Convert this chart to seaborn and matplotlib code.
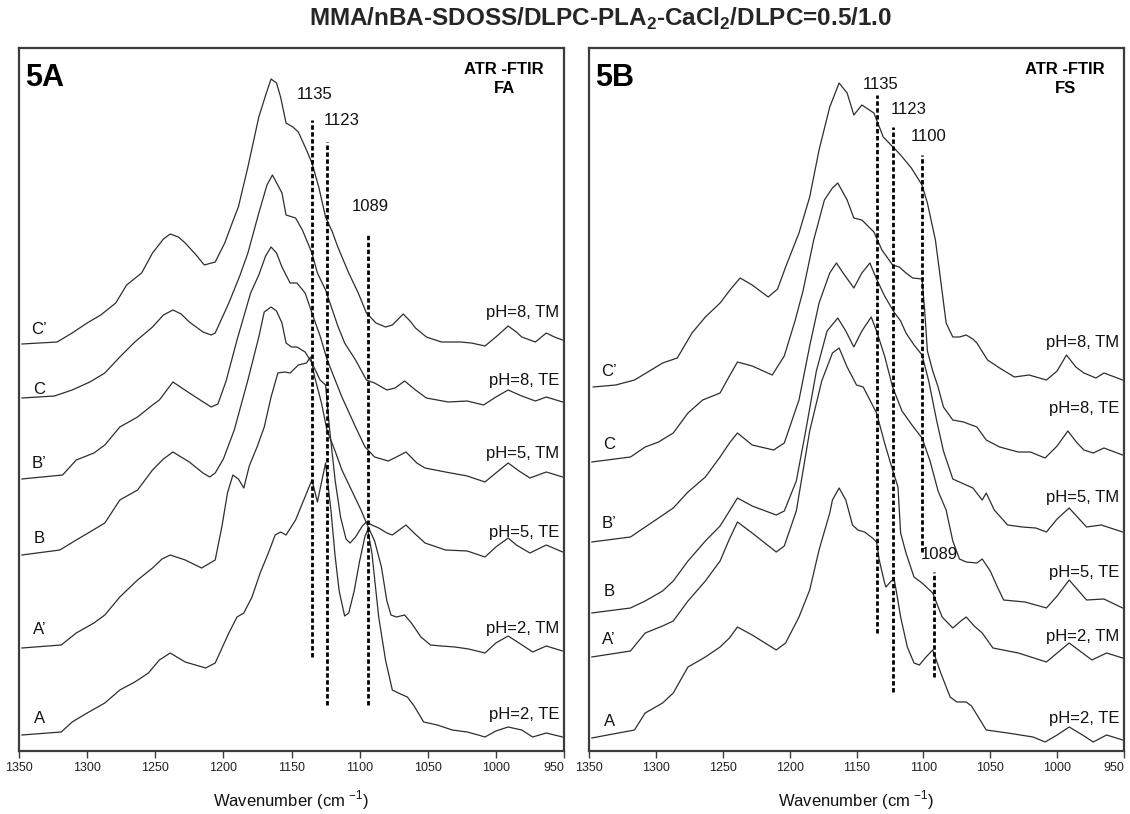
import numpy as np
import pandas as pd
import matplotlib
matplotlib.use("Agg")
import matplotlib.pyplot as plt
import seaborn as sns

# ---------------- data (wavenumber, absorbance in arbitrary offset units) ----------------
TITLE = r"MMA/nBA-SDOSS/DLPC-PLA$_\mathbf{2}$-CaCl$_\mathbf{2}$/DLPC=0.5/1.0"
X_TICKS = [1350, 1300, 1250, 1200, 1150, 1100, 1050, 1000, 950]

# ---- Panel 5A (FA) ----
FA_C_PRIME = [(1348,407),(1322,409),(1311,418),(1300,428),(1290,436),(1279,448),(1271,466),(1260,478),(1252,498),
              (1244,512),(1239,517),(1233,514),(1228,508),(1220,496),(1214,486),(1206,489),(1199,508),(1193,530),
              (1189,544),(1182,584),(1174,634),(1168,660),(1165,672),(1161,668),(1158,654),(1154,628),(1149,624),
              (1145,619),(1139,601),(1135,588),(1130,564),(1125,534),(1120,519),(1116,504),(1108,478),(1101,458),
              (1095,438),(1088,428),(1081,424),(1076,426),(1068,437),(1063,430),(1059,423),(1051,414),(1040,409),
              (1026,409),(1018,408),(1008,405),(1000,414),(991,425),(985,419),(981,414),(971,409),(963,418),
              (957,414),(951,411)]
FA_C = [(1348,353),(1324,355),(1311,361),(1298,369),(1287,378),(1276,394),(1265,409),(1252,424),(1244,436),
        (1237,441),(1231,437),(1225,429),(1215,419),(1209,416),(1206,418),(1196,448),(1188,475),(1182,498),
        (1174,538),(1168,566),(1164,576),(1157,558),(1154,536),(1147,533),(1142,521),(1135,498),(1131,478),
        (1125,461),(1116,425),(1111,408),(1103,391),(1095,371),(1089,368),(1080,361),(1074,363),(1067,370),
        (1059,361),(1051,353),(1035,349),(1021,350),(1009,346),(1000,354),(991,361),(981,355),(971,350),
        (963,354),(951,349)]
FA_B_PRIME = [(1348,272),(1318,276),(1308,291),(1295,298),(1287,306),(1276,324),(1263,334),(1252,346),(1247,351),
              (1237,369),(1225,358),(1209,344),(1204,347),(1198,370),(1190,411),(1180,458),(1174,476),(1169,495),
              (1165,504),(1161,498),(1157,484),(1151,468),(1146,468),(1140,458),(1135,438),(1129,415),(1124,392),
              (1120,378),(1113,354),(1103,324),(1096,304),(1089,294),(1079,290),(1073,294),(1066,299),(1058,288),
              (1052,283),(1037,279),(1021,275),(1008,269),(1000,278),(991,288),(983,280),(975,273),(963,279),
              (951,274)]
FA_B = [(1348,196),(1320,201),(1308,211),(1298,219),(1287,228),(1276,251),(1263,261),(1252,281),(1244,292),
        (1237,299),(1225,289),(1215,278),(1210,274),(1206,278),(1200,292),(1192,321),(1182,371),(1174,414),
        (1170,439),(1165,444),(1161,440),(1157,428),(1154,408),(1150,404),(1146,404),(1140,399),(1135,388),
        (1129,371),(1125,366),(1122,321),(1118,271),(1114,234),(1110,212),(1107,208),(1103,214),(1098,225),
        (1095,229),(1091,226),(1086,223),(1080,218),(1076,216),(1070,222),(1066,226),(1060,218),(1052,208),
        (1037,201),(1021,200),(1008,194),(1000,204),(991,213),(985,206),(975,198),(963,206),(951,199)]
FA_A_PRIME = [(1348,103),(1319,106),(1308,118),(1295,128),(1287,136),(1276,154),(1263,171),(1252,183),(1245,192),
              (1239,196),(1228,191),(1216,183),(1206,191),(1201,225),(1197,258),(1193,276),(1189,272),(1185,263),
              (1181,285),(1175,305),(1170,324),(1165,354),(1160,378),(1155,379),(1151,378),(1145,386),(1139,388),
              (1136,394),(1133,374),(1128,348),(1124,321),(1118,300),(1113,281),(1106,261),(1099,241),(1095,228),
              (1089,210),(1084,184),(1080,150),(1077,136),(1073,134),(1067,136),(1062,128),(1055,114),(1048,106),
              (1040,105),(1030,104),(1020,102),(1008,98),(1000,108),(991,115),(983,108),(973,99),(963,105),(951,100)]
FA_A = [(1348,16),(1319,19),(1311,29),(1300,38),(1287,48),(1276,61),(1265,69),(1255,78),(1247,91),(1239,98),
        (1228,89),(1213,83),(1206,88),(1196,118),(1190,134),(1185,138),(1179,154),(1173,178),(1167,198),(1162,216),
        (1158,219),(1154,216),(1147,231),(1141,251),(1135,271),(1131,249),(1125,288),(1121,240),(1118,195),
        (1115,160),(1111,135),(1108,138),(1104,160),(1100,190),(1096,215),(1094,221),(1091,198),(1086,134),
        (1081,91),(1076,61),(1070,57),(1065,54),(1060,45),(1053,29),(1043,26),(1032,21),(1021,19),(1013,16),
        (1008,14),(1000,20),(991,24),(981,21),(973,14),(963,18),(951,14)]

# ---- Panel 5B (FS) ----
FS_C_PRIME = [(1347,364),(1330,366),(1316,371),(1306,379),(1295,388),(1284,393),(1273,418),(1263,434),(1252,448),
              (1244,462),(1237,473),(1228,466),(1216,454),(1209,462),(1203,484),(1193,518),(1185,554),(1178,601),
              (1170,644),(1163,668),(1157,658),(1152,636),(1146,646),(1137,638),(1130,614),(1122,603),(1117,596),
              (1109,583),(1101,566),(1097,548),(1091,511),(1087,470),(1083,428),(1078,414),(1073,414),(1068,416),
              (1063,412),(1060,408),(1052,391),(1043,383),(1032,374),(1021,376),(1008,371),(1000,380),(993,396),
              (986,384),(980,378),(971,373),(965,378),(951,371)]
FS_C = [(1348,289),(1319,294),(1308,304),(1298,309),(1287,318),(1276,338),(1265,351),(1252,358),(1245,375),
        (1239,389),(1228,385),(1213,376),(1204,395),(1196,430),(1190,460),(1182,511),(1174,551),(1168,563),
        (1164,568),(1157,551),(1152,533),(1146,531),(1137,519),(1131,501),(1123,486),(1118,484),(1113,478),
        (1108,473),(1101,472),(1099,440),(1097,400),(1093,380),(1089,364),(1085,344),(1078,331),(1070,329),
        (1060,324),(1053,311),(1043,304),(1029,299),(1020,299),(1009,293),(1000,305),(992,320),(985,308),
        (980,301),(973,298),(965,303),(951,296)]
FS_B_PRIME = [(1348,209),(1319,214),(1308,224),(1298,233),(1287,243),(1276,259),(1263,274),(1252,294),(1245,308),
              (1239,318),(1228,306),(1212,301),(1204,308),(1193,351),(1185,405),(1178,448),(1170,478),(1165,488),
              (1160,478),(1152,463),(1146,478),(1140,488),(1135,472),(1129,455),(1122,439),(1117,430),(1113,418),
              (1107,406),(1101,396),(1096,370),(1090,330),(1085,300),(1078,272),(1068,266),(1063,263),(1056,251),
              (1053,258),(1047,241),(1037,226),(1026,224),(1016,223),(1008,219),(1000,232),(991,243),(978,224),
              (967,226),(951,219)]
FS_B = [(1348,138),(1319,143),(1308,150),(1295,160),(1287,170),(1276,190),(1263,210),(1252,225),(1245,240),
        (1239,253),(1228,245),(1210,236),(1204,240),(1195,270),(1188,320),(1180,380),(1172,420),(1164,433),
        (1158,420),(1152,404),(1146,420),(1139,434),(1135,420),(1129,395),(1123,364),(1116,340),(1108,325),
        (1101,313),(1095,290),(1089,260),(1083,241),(1078,210),(1073,192),(1068,189),(1060,188),(1056,192),
        (1050,180),(1045,165),(1040,151),(1024,149),(1008,143),(1000,155),(991,171),(978,151),(965,152),(951,143)]
FS_A_PRIME = [(1348,94),(1319,100),(1308,118),(1295,125),(1287,130),(1276,150),(1263,170),(1252,190),(1245,212),
              (1239,229),(1228,218),(1210,199),(1204,205),(1195,240),(1185,320),(1176,370),(1168,398),(1163,403),
              (1157,384),(1150,366),(1145,364),(1135,338),(1129,308),(1123,281),(1119,264),(1117,218),(1113,198),
              (1107,174),(1101,168),(1093,158),(1086,134),(1078,123),(1072,130),(1068,134),(1062,125),(1056,118),
              (1048,103),(1029,98),(1008,89),(1000,98),(991,108),(974,91),(963,98),(951,93)]
FS_A = [(1348,13),(1316,21),(1308,38),(1295,48),(1287,58),(1276,84),(1263,94),(1252,104),(1245,113),(1239,124),
        (1228,116),(1210,101),(1203,108),(1193,134),(1185,161),(1178,201),(1170,238),(1168,251),(1163,263),
        (1158,251),(1153,226),(1149,221),(1144,219),(1138,213),(1135,209),(1133,191),(1129,168),(1128,164),
        (1122,173),(1120,158),(1117,134),(1112,104),(1107,88),(1103,86),(1098,94),(1093,101),(1087,78),
        (1080,54),(1075,49),(1068,49),(1064,45),(1053,21),(1037,18),(1018,14),(1009,9),(1000,16),(991,24),
        (981,16),(973,9),(963,16),(951,11)]

# curve labels (letter, right-side condition)
SAMPLES = ["C\u2019", "C", "B\u2019", "B", "A\u2019", "A"]
CONDITIONS = ["pH=8, TM", "pH=8, TE", "pH=5, TM", "pH=5, TE", "pH=2, TM", "pH=2, TE"]

FA_CURVES = [FA_C_PRIME, FA_C, FA_B_PRIME, FA_B, FA_A_PRIME, FA_A]
FS_CURVES = [FS_C_PRIME, FS_C, FS_B_PRIME, FS_B, FS_A_PRIME, FS_A]

# marker lines: (position, label text, top, bottom, label x, label y)
FA_MARKS = [(1135, "1135", 631, 94, 1133, 649), (1124, "1123", 609, 46, 1113, 623),
            (1094, "1089", 518, 46, 1092, 537)]
FS_MARKS = [(1135, "1135", 656, 118, 1132, 659), (1122.5, "1123", 624, 59, 1111, 634),
            (1101, "1100", 596, 199, 1096, 607), (1092, "1089", 179, 74, 1088, 189)]

# label positions (y, data units)
FA_LETTER_Y = [413, 353, 279, 204, 113, 24]
FA_COND_Y = [439, 371, 298, 219, 123, 36]
FS_LETTER_Y = [371, 298, 219, 151, 103, 21]
FS_COND_Y = [409, 343, 254, 178, 114, 33]

# ---------------- style ----------------
sns.set_theme(style="white")
plt.rcParams["font.family"] = ["Liberation Sans", "DejaVu Sans"]
plt.rcParams["mathtext.fontset"] = "custom"
plt.rcParams["mathtext.rm"] = "Liberation Sans"
plt.rcParams["mathtext.bf"] = "Liberation Sans:bold"

W, H = 1130, 814
fig = plt.figure(figsize=(W / 100, H / 100), dpi=100)
fig.patch.set_facecolor("white")

LINE_COLOR = "#2e2e2e"
FRAME_COLOR = "#3c3c3c"


def to_frame(curves):
    rows = []
    for name, pts in zip(SAMPLES, curves):
        for wn, a in pts:
            rows.append({"wavenumber": wn, "absorbance": a, "sample": name})
    return pd.DataFrame(rows)


def draw_panel(rect, curves, marks, letter_y, cond_y, tag, tech):
    ax = fig.add_axes(rect)
    df = to_frame(curves)
    sns.lineplot(data=df, x="wavenumber", y="absorbance", units="sample", estimator=None,
                 color=LINE_COLOR, linewidth=0.9, ax=ax, legend=False)
    ax.set_xlim(1350, 950)
    ax.set_ylim(0, 703)
    ax.set_yticks([])
    ax.set_xticks(X_TICKS)
    labels = ax.set_xticklabels([str(t) for t in X_TICKS], fontsize=9, color="#222222")
    labels[-1].set_horizontalalignment("right")
    ax.tick_params(axis="x", direction="out", length=5, width=1, color=FRAME_COLOR, pad=3,
                   bottom=True)
    for s in ax.spines.values():
        s.set_color(FRAME_COLOR)
        s.set_linewidth(1.6)
    ax.set_ylabel("")
    ax.set_xlabel("Wavenumber (cm $^{-1}$)", fontsize=12, color="#111111", labelpad=10)

    for pos, txt, top, bot, lx, ly in marks:
        ax.plot([pos, pos], [bot, top], color="black", lw=2.0, ls=(0, (1.6, 0.9)))
        ax.text(lx, ly, txt, fontsize=12, ha="center", va="bottom", color="#111111")

    for name, y in zip(SAMPLES, letter_y):
        ax.text(1335, y + 1, name, fontsize=12, ha="center", va="bottom", color="#111111")
    for cond, y in zip(CONDITIONS, cond_y):
        ax.text(953.5, y, cond, fontsize=12, ha="right", va="center", color="#111111")

    ax.text(0.012, 0.978, tag, transform=ax.transAxes, fontsize=22, fontweight="bold",
            ha="left", va="top", color="black")
    ax.text(0.89, 0.98, "ATR -FTIR\n" + tech, transform=ax.transAxes, fontsize=12,
            fontweight="bold", ha="center", va="top", linespacing=1.35, color="black")
    return ax


draw_panel([19 / W, 1 - 751 / H, 545 / W, 703 / H], FA_CURVES, FA_MARKS, FA_LETTER_Y, FA_COND_Y, "5A", "FA")
draw_panel([589 / W, 1 - 751 / H, 535 / W, 703 / H], FS_CURVES, FS_MARKS, FS_LETTER_Y, FS_COND_Y, "5B", "FS")

fig.text(600 / W, 1 - 19 / H, TITLE, ha="center", va="center", fontsize=17.5, fontweight="bold")

fig.savefig("out.png", dpi=100, facecolor="white")
